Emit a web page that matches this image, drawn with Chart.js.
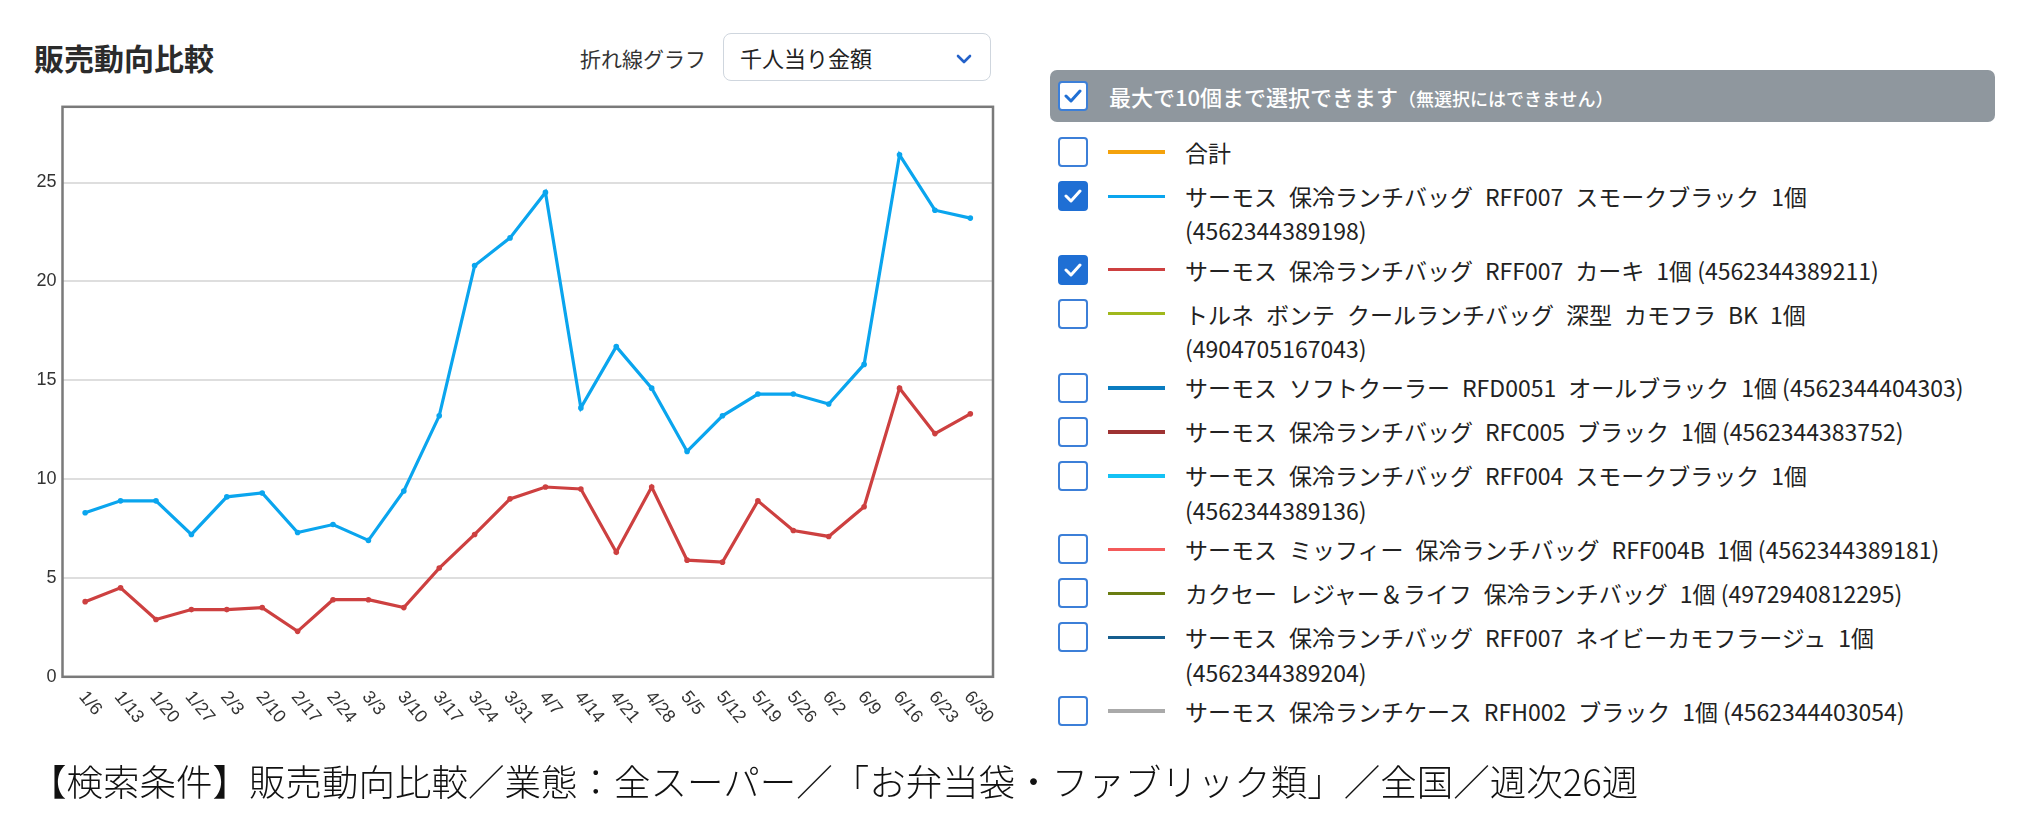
<!DOCTYPE html>
<html lang="ja">
<head>
<meta charset="utf-8">
<title>販売動向比較</title>
<script src="https://cdn.jsdelivr.net/npm/chart.js@4.4.1/dist/chart.umd.min.js"></script>
<style>
  html, body { margin: 0; padding: 0; background: #fff; }
  body {
    width: 2043px; height: 825px; position: relative; overflow: hidden;
    font-family: "Noto Sans CJK JP", "Noto Sans", sans-serif; color: #222;
  }
  .title { position: absolute; left: 34px; top: 36px; font-size: 30px; font-weight: bold; line-height: 42px; color: #2b2b2b; }
  .kind { position: absolute; left: 580px; top: 43px; font-size: 21px; line-height: 30px; color: #333; }
  .select {
    position: absolute; left: 723px; top: 33px; width: 268px; height: 48px; box-sizing: border-box;
    border: 1px solid #cfd6de; border-radius: 8px; background: #fff;
  }
  .select span { position: absolute; left: 16px; top: 0; font-size: 22px; line-height: 46px; color: #222; }
  .select svg { position: absolute; left: 231px; top: 19px; }
  .chartBox { position: absolute; left: 0; top: 90px; width: 1010px; height: 700px; }
  .caption { position: absolute; left: 30px; top: 757px; font-size: 36.5px; line-height: 48px; font-weight: 300; color: #111; white-space: nowrap; }
  .head {
    position: absolute; left: 1050px; top: 70px; width: 945px; height: 52px;
    background: #8f979e; border-radius: 7px; color: #fff;
  }
  .head .cb { position: absolute; left: 8px; top: 11px; background: #fff; }
  .head .txt { position: absolute; left: 59px; top: 0; font-size: 22px; font-weight: 500; line-height: 52px; white-space: nowrap; }
  .head .txt small { font-size: 18px; }
  .cb {
    width: 30px; height: 30px; box-sizing: border-box; border: 2px solid #3c7fd8; border-radius: 4px;
    background: #fff; flex: none; position: relative;
  }
  .cb.on { background: #1f6fd4; border-color: #1f6fd4; }
  .cb svg { position: absolute; left: 4px; top: 5px; }
  .list { position: absolute; left: 1058px; top: 130px; width: 945px; }
  .row { display: flex; align-items: flex-start; min-height: 44px; }
  .row .cb { margin-top: 7px; }
  .row .sw { width: 57px; margin-left: 20px; flex: none; }
  .row .name { margin-left: 20px; margin-top: 4.75px; width: 800px; font-size: 23px; line-height: 34.5px; color: #222; }
  .row .name .zs { letter-spacing: -11px; }
</style>
</head>
<body>
<div class="title">販売動向比較</div>
<div class="kind">折れ線グラフ</div>
<div class="select"><span>千人当り金額</span>
  <svg width="18" height="12" viewBox="0 0 18 12"><polyline points="3,3 9,9 15,3" fill="none" stroke="#2361c9" stroke-width="2.6" stroke-linecap="round" stroke-linejoin="round"/></svg>
</div>
<div class="chartBox"><canvas id="salesChart"></canvas></div>
<div class="head">
  <div class="cb"><svg width="18" height="16" viewBox="0 0 18 16"><polyline points="2,8 7,13 16,3" fill="none" stroke="#1f6fd4" stroke-width="3" stroke-linecap="round" stroke-linejoin="round"/></svg></div>
  <div class="txt">最大で10個まで選択できます<small>（無選択にはできません）</small></div>
</div>
<div class="list" id="legendList"></div>
<div class="caption">【検索条件】販売動向比較／業態：全スーパー／「お弁当袋・ファブリック類」／全国／週次26週</div>

<script>
// Weeks (x axis)
const weeks = [
  "1/6", "1/13", "1/20", "1/27", "2/3", "2/10", "2/17", "2/24", "3/3", "3/10",
  "3/17", "3/24", "3/31", "4/7", "4/14", "4/21", "4/28", "5/5", "5/12", "5/19",
  "5/26", "6/2", "6/9", "6/16", "6/23", "6/30",
];

// サーモス 保冷ランチバッグ RFF007 スモークブラック
const smokeBlack = [
  8.3, 8.9, 8.9, 7.2, 9.1, 9.3, 7.3, 7.7, 6.9, 9.4,
  13.2, 20.8, 22.2, 24.5, 13.6, 16.7, 14.6, 11.4, 13.2, 14.3,
  14.3, 13.8, 15.8, 26.4, 23.6, 23.2,
];

// サーモス 保冷ランチバッグ RFF007 カーキ
const khaki = [
  3.8, 4.5, 2.9, 3.4, 3.4, 3.5, 2.3, 3.9, 3.9, 3.5,
  5.5, 7.2, 9.0, 9.6, 9.5, 6.3, 9.6, 5.9, 5.8, 8.9,
  7.4, 7.1, 8.6, 14.6, 12.3, 13.3,
];

// Y ticks
const yTicks = [0, 5, 10, 15, 20, 25];

// Legend items
const itemNames = [
  "合計",
  "サーモス　保冷ランチバッグ　RFF007　スモークブラック　1個 (4562344389198)",
  "サーモス　保冷ランチバッグ　RFF007　カーキ　1個 (4562344389211)",
  "トルネ　ボンテ　クールランチバッグ　深型　カモフラ　BK　1個 (4904705167043)",
  "サーモス　ソフトクーラー　RFD0051　オールブラック　1個 (4562344404303)",
  "サーモス　保冷ランチバッグ　RFC005　ブラック　1個 (4562344383752)",
  "サーモス　保冷ランチバッグ　RFF004　スモークブラック　1個 (4562344389136)",
  "サーモス　ミッフィー　保冷ランチバッグ　RFF004B　1個 (4562344389181)",
  "カクセー　レジャー＆ライフ　保冷ランチバッグ　1個 (4972940812295)",
  "サーモス　保冷ランチバッグ　RFF007　ネイビーカモフラージュ　1個 (4562344389204)",
  "サーモス　保冷ランチケース　RFH002　ブラック　1個 (4562344403054)",
];
const itemColors = [
  "#f4a20c", "#0aa5ee", "#cd4040", "#a0b81c", "#0a7cc0", "#9e3232",
  "#14c2f5", "#f35a5a", "#6a7d12", "#165e8e", "#aaaaaa",
];
const itemChecked = [false, true, true, false, false, false, false, false, false, false, false];

// swatch thickness (style only)
const thickSwatch = [0, 4, 5, 6, 10];

// Legend list
const checkSvg =
  '<svg width="18" height="16" viewBox="0 0 18 16"><polyline points="2,8 7,13 16,3" fill="none" stroke="#fff" stroke-width="3" stroke-linecap="round" stroke-linejoin="round"/></svg>';
const list = document.getElementById("legendList");
itemNames.forEach(function (name, i) {
  const t = thickSwatch.includes(i) ? 4 : 3;
  const row = document.createElement("div");
  row.className = "row";
  row.innerHTML =
    '<div class="cb' + (itemChecked[i] ? " on" : "") + '">' + (itemChecked[i] ? checkSvg : "") + "</div>" +
    '<div class="sw" style="height:' + t + "px;margin-top:" + (22 - t / 2) + "px;background:" + itemColors[i] + '"></div>' +
    '<div class="name">' + name.split("　").join('<span class="zs">　</span>') + "</div>";
  list.appendChild(row);
});

// Frame around plot area
const framePlugin = {
  id: "frame",
  beforeDatasetsDraw(chart) {
    const { ctx, chartArea: a } = chart;
    ctx.save();
    ctx.strokeStyle = "#7a7a7a";
    ctx.lineWidth = 2.5;
    ctx.strokeRect(a.left, a.top, a.right - a.left, a.bottom - a.top);
    ctx.restore();
  },
};

// Slanted week labels
const slantLabels = {
  id: "slantLabels",
  afterDraw(chart) {
    const { ctx, chartArea: a } = chart;
    const xs = chart.scales.x;
    ctx.save();
    ctx.fillStyle = "#333";
    ctx.font = '18px "Liberation Sans", Arial, sans-serif';
    ctx.textAlign = "left";
    ctx.textBaseline = "middle";
    weeks.forEach(function (w, i) {
      ctx.save();
      ctx.translate(xs.getPixelForValue(i) - 3, a.bottom + 17);
      ctx.rotate((50 * Math.PI) / 180);
      ctx.fillText(w, 0, 0);
      ctx.restore();
    });
    ctx.restore();
  },
};

function series(label, values, color) {
  return {
    label: label,
    data: values.map(function (v, i) { return { x: i, y: v }; }),
    borderColor: color,
    backgroundColor: color,
    borderWidth: 3.2,
    pointRadius: 2.8,
    pointBorderWidth: 0,
    pointBackgroundColor: color,
    tension: 0,
  };
}

const config = {
  type: "line",
  data: {
    datasets: [
      series(itemNames[1], smokeBlack, itemColors[1]),
      series(itemNames[2], khaki, itemColors[2]),
    ],
  },
  options: {
    responsive: true,
    maintainAspectRatio: false,
    animation: false,
    layout: { padding: { left: 0, top: 11, right: 17, bottom: 0 } },
    plugins: {
      legend: { display: false },
      tooltip: { enabled: false },
    },
    scales: {
      x: {
        type: "linear",
        min: -0.64,
        max: weeks.length - 0.36,
        grid: { display: false },
        border: { display: false },
        ticks: { display: false },
        afterFit(s) { s.height = 113.2; },
      },
      y: {
        min: 0,
        max: 28.83,
        afterBuildTicks(s) {
          s.ticks = yTicks.map(function (v) { return { value: v }; });
        },
        grid: { color: "#dedede", lineWidth: 2, drawTicks: false },
        border: { display: false },
        ticks: {
          padding: 6,
          color: "#333",
          font: { size: 18, family: '"Liberation Sans", Arial, sans-serif' },
        },
        afterFit(s) { s.width = 62.5; },
      },
    },
  },
  plugins: [framePlugin, slantLabels],
};

new Chart(document.getElementById("salesChart"), config);
</script>
</body>
</html>
